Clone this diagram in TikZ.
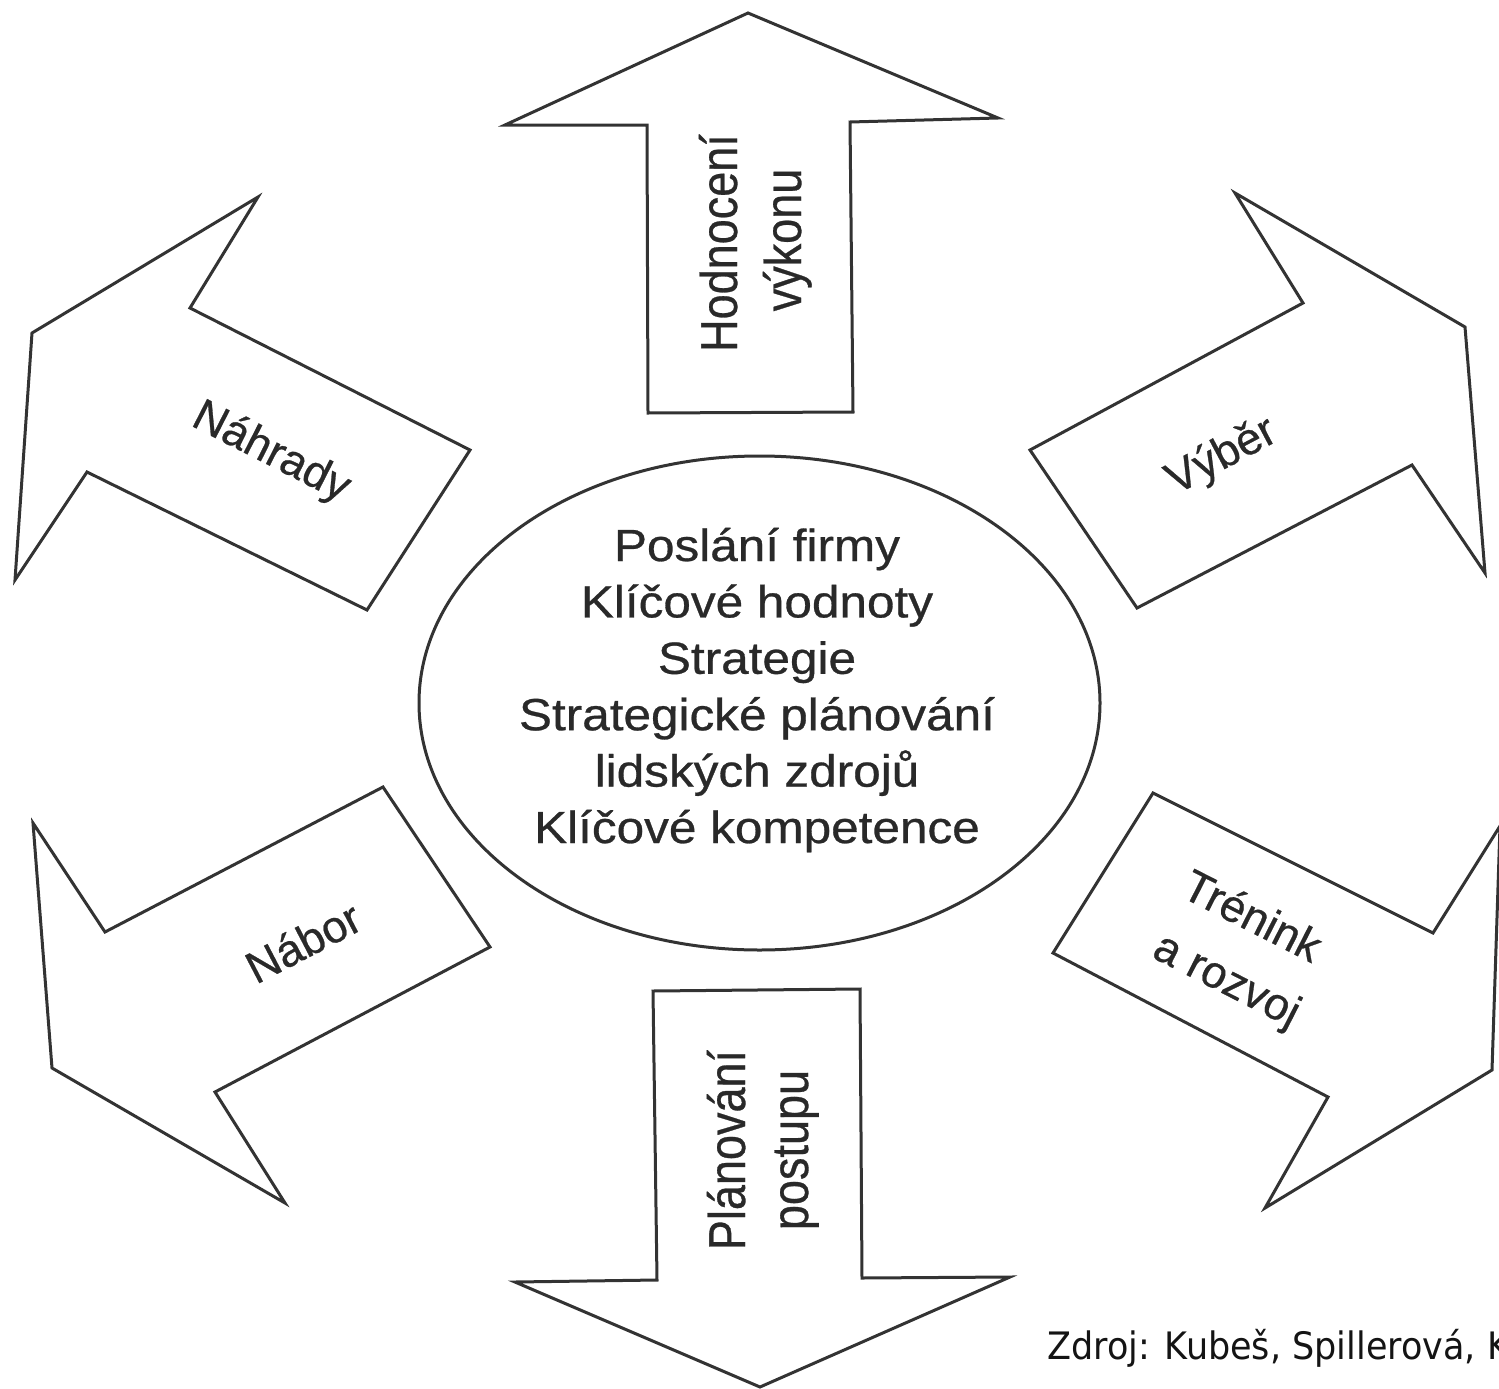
\documentclass[tikz,border=0pt]{standalone}
\usepackage{graphicx}
\usepackage{fontspec}
\setmainfont{Liberation Sans}[FakeBold=0.6]
\newfontfamily\zfont{DejaVu Sans}
\usetikzlibrary{shapes.geometric}
\definecolor{ink}{gray}{0.2}
\definecolor{txt}{gray}{0.16}
\newcommand{\hstr}[1]{\scalebox{1.1}[1]{#1}}
\newcommand{\vstr}[1]{\scalebox{1}[1.15]{#1}}
\tikzset{
  blockarrow/.style={draw=ink, line width=3pt, line join=miter},
  lbl/.style={text=txt, font=\fontsize{45}{58}\selectfont, inner sep=0pt},
}
\begin{document}
\begin{tikzpicture}[x=1pt,y=-1pt]
\useasboundingbox (0,0) rectangle (1499,1389);
\fill[white] (0,0) rectangle (1499,1389);
\clip (0,0) rectangle (1499,1389);

% top arrow
\draw[blockarrow] (505,125) -- (647,125) -- (648,413) -- (853,412) -- (850,122) -- (998,118) -- (748,13) -- cycle;
% bottom arrow
\draw[blockarrow] (653,991) -- (860,989) -- (862,1278) -- (1010,1277) -- (760,1387) -- (515,1282) -- (657,1280) -- cycle;
% upper-left arrow
\draw[blockarrow] (258,197) -- (190,308) -- (470,450) -- (367,610) -- (87,472) -- (15,580) -- (32,333) -- cycle;
% upper-right arrow
\draw[blockarrow] (1235,193) -- (1303,303) -- (1030,450) -- (1137,608) -- (1412,465) -- (1485,573) -- (1465,327) -- cycle;
% lower-left arrow
\draw[blockarrow] (33,823) -- (105,932) -- (383,787) -- (490,947) -- (215,1092) -- (285,1203) -- (52,1068) -- cycle;
% lower-right arrow
\draw[blockarrow] (1153,793) -- (1433,933) -- (1500,826) -- (1492,1070) -- (1265,1208) -- (1328,1097) -- (1053,953) -- cycle;

% central ellipse
\node[ellipse, draw=ink, line width=3pt, minimum width=681pt, minimum height=494pt, inner sep=0pt] (core) at (759.5,703) {};
\node[lbl, anchor=base] (c1) at (757,561) {\hstr{Poslání firmy}};
\node[lbl, anchor=base] (c2) at (757,617.4) {\hstr{Klíčové hodnoty}};
\node[lbl, anchor=base] (c3) at (757,673.8) {\hstr{Strategie}};
\node[lbl, anchor=base] (c4) at (757,730.2) {\hstr{Strategické plánování}};
\node[lbl, anchor=base] (c5) at (757,786.6) {\hstr{lidských zdrojů}};
\node[lbl, anchor=base] (c6) at (757,843) {\hstr{Klíčové kompetence}};

% vertical labels
\node[lbl, anchor=base, rotate=90] (h1) at (737,243) {\vstr{Hodnocení}};
\node[lbl, anchor=base, rotate=90] (h2) at (801,240) {\vstr{výkonu}};
\node[lbl, anchor=base, rotate=90] (p1) at (745,1150) {\vstr{Plánování}};
\node[lbl, anchor=base, rotate=90] (p2) at (808,1150) {\vstr{postupu}};

% slanted labels
\node[lbl, rotate=-27] (n1) at (271,453) {Náhrady};
\node[lbl, rotate=28] (v1) at (1222,457) {Výběr};
\node[lbl, rotate=27.5] (b1) at (303,942) {Nábor};
\node[lbl, rotate=-27] (t1) at (1253,915) {Trénink};
\node[lbl, rotate=-27] (t2) at (1226,982) {a rozvoj};

% source
\node[anchor=base west, inner sep=0pt, text=black!92, font=\zfont\fontsize{35}{40}\selectfont] (src) at (1047,1359) {\scalebox{1}[1.08]{Zdroj: Kubeš, Spillerová, K}};
\end{tikzpicture}
\end{document}
